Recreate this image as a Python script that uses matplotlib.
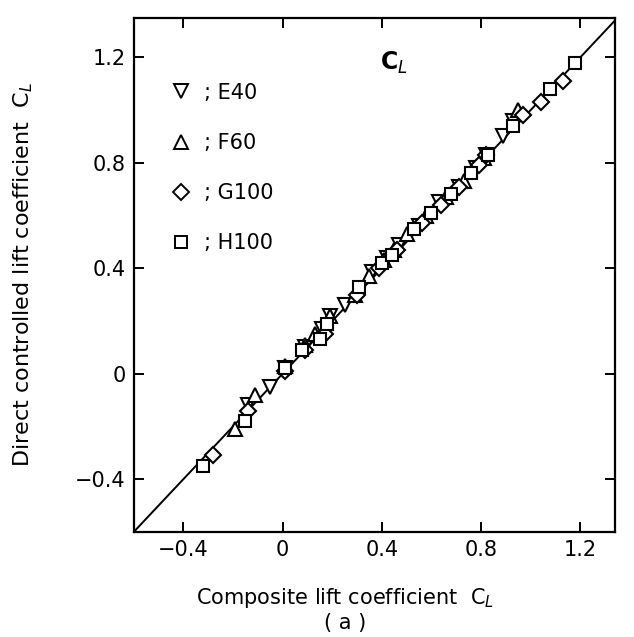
import matplotlib
matplotlib.use("Agg")
import matplotlib.pyplot as plt
from matplotlib.lines import Line2D

plt.rcParams["font.family"] = ["DejaVu Sans"]
plt.rcParams["mathtext.fontset"] = "dejavusans"

# composite C_L (x) vs direct controlled C_L (y)
e40_x = [-0.14, -0.05, 0.01, 0.09, 0.16, 0.19, 0.25, 0.36, 0.42, 0.47, 0.55, 0.63, 0.71, 0.78, 0.82, 0.89, 0.93]
e40_y = [-0.12, -0.05, 0.02, 0.10, 0.17, 0.22, 0.26, 0.385, 0.44, 0.49, 0.56, 0.65, 0.71, 0.78, 0.83, 0.90, 0.96]

f60_x = [-0.19, -0.11, 0.01, 0.09, 0.13, 0.19, 0.29, 0.35, 0.41, 0.45, 0.50, 0.58, 0.66, 0.73, 0.81, 0.95]
f60_y = [-0.21, -0.08, 0.03, 0.11, 0.15, 0.22, 0.30, 0.37, 0.43, 0.47, 0.53, 0.60, 0.67, 0.73, 0.82, 1.00]

g100_x = [-0.28, -0.14, 0.01, 0.09, 0.17, 0.30, 0.39, 0.46, 0.56, 0.64, 0.71, 0.79, 0.82, 0.97, 1.04, 1.13]
g100_y = [-0.31, -0.14, 0.01, 0.09, 0.15, 0.30, 0.40, 0.47, 0.57, 0.64, 0.71, 0.79, 0.83, 0.98, 1.03, 1.11]

h100_x = [-0.32, -0.15, 0.01, 0.08, 0.15, 0.18, 0.31, 0.40, 0.44, 0.53, 0.60, 0.68, 0.76, 0.83, 0.93, 1.08, 1.18]
h100_y = [-0.35, -0.18, 0.02, 0.09, 0.13, 0.19, 0.33, 0.42, 0.45, 0.55, 0.61, 0.68, 0.76, 0.83, 0.94, 1.08, 1.18]

series = [
    ("E40", "v", e40_x, e40_y),
    ("F60", "^", f60_x, f60_y),
    ("G100", "D", g100_x, g100_y),
    ("H100", "s", h100_x, h100_y),
]
ticks = [-0.4, 0, 0.4, 0.8, 1.2]
tick_labels = ["\u22120.4", "0", "0.4", "0.8", "1.2"]

fig = plt.figure(figsize=(6.34, 6.37), dpi=100)
ax = fig.add_axes([0.211, 0.165, 0.759, 0.807])

ax.axline((0, 0), slope=1, color="black", linewidth=1.4, zorder=1)

sizes = {"v": 10.5, "^": 10.5, "D": 8.5, "s": 9}
handles = []
for name, marker, xs, ys in series:
    ax.plot(xs, ys, linestyle="none", marker=marker, markersize=sizes[marker],
            markerfacecolor="white", markeredgecolor="black", markeredgewidth=1.5, zorder=3)
    handles.append(Line2D([], [], linestyle="none", marker=marker, markersize=sizes[marker] * 0.95,
                          markerfacecolor="white", markeredgecolor="black",
                          markeredgewidth=1.4, label="; " + name))

ax.set_xlim(-0.6, 1.34)
ax.set_ylim(-0.6, 1.35)
ax.set_xticks(ticks)
ax.set_xticklabels(tick_labels)
ax.set_yticks(ticks)
ax.set_yticklabels(tick_labels)
ax.tick_params(direction="in", length=7, width=1.4, top=True, right=True,
               labelsize=15, pad=6)
for spine in ax.spines.values():
    spine.set_linewidth(1.6)

ax.legend(handles=handles, loc="upper left", bbox_to_anchor=(0.06, 0.89),
          frameon=False, fontsize=15, handlelength=1.0, handletextpad=0.6,
          labelspacing=1.45, borderaxespad=0)

ax.text(0.45, 1.18, r"$\mathbf{C}_{\mathit{L}}$", fontsize=17, ha="center", va="center")

ax.set_xlabel("Composite lift coefficient  C$_\\mathit{L}$\n( a )", fontsize=15,
              linespacing=1.2)
ax.xaxis.set_label_coords(0.44, -0.105, transform=ax.transAxes)
ax.xaxis.label.set_va("top")
ax.set_ylabel("Direct controlled lift coefficient  C$_\\mathit{L}$", fontsize=16)
ax.yaxis.set_label_coords(-0.205, 0.5, transform=ax.transAxes)

fig.savefig("out.png", dpi=100)
